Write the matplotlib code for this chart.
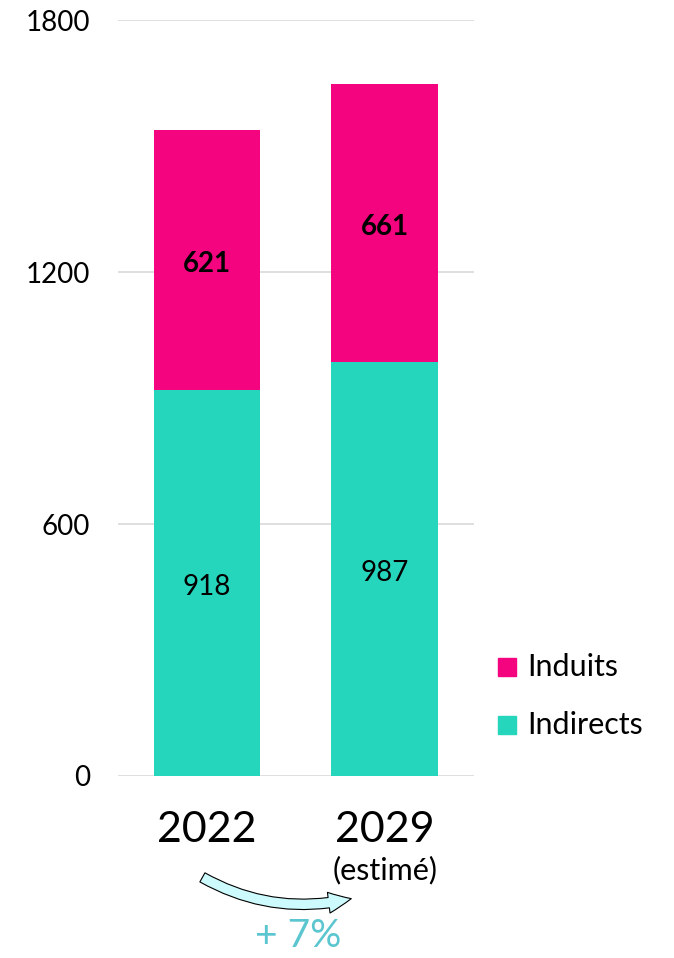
import matplotlib.pyplot as plt
from matplotlib.patches import FancyArrowPatch, Rectangle

plt.rcParams['font.family'] = ['Lato', 'DejaVu Sans']

years = ['2022', '2029']
sub = ['', '(estimé)']
indirects = [918, 987]
induits = [621, 661]
growth = '+ 7%'

col_ind = '#26d6bc'
col_indu = '#f5047f'

fig = plt.figure(figsize=(6.74, 9.58), dpi=100)
ax = fig.add_axes([0.175, 0.19, 0.528, 0.789])

x = range(len(years))
ax.bar(x, indirects, width=0.6, color=col_ind, zorder=3)
ax.bar(x, induits, width=0.6, bottom=indirects, color=col_indu, zorder=3)

for i in x:
    ax.text(i, indirects[i] / 2 - 10, str(indirects[i]), ha='center', va='center',
            fontsize=20, color='black', zorder=4)
    ax.text(i, indirects[i] + induits[i] / 2 - 10, str(induits[i]), ha='center',
            va='center', fontsize=20, fontweight='bold', color='black', zorder=4)

ax.set_xlim(-0.5, 1.5)
ax.set_ylim(0, 1800)
ax.set_yticks([0, 600, 1200, 1800])
ax.tick_params(axis='y', length=0, labelsize=20, pad=20)
ax.set_xticks([])
ax.grid(axis='y', color='#d9d9d9', linewidth=1.2, zorder=0)
for s in ax.spines.values():
    s.set_visible(False)

# year labels
for i in x:
    xf = (0.175 + 0.528 * (i + 0.5) / 2.0)
    fig.text(xf, 1 - 830 / 958, years[i], ha='center', va='center', fontsize=31)
    if sub[i]:
        fig.text(xf, 1 - 870 / 958, sub[i], ha='center', va='center', fontsize=22)

# legend
for lab, c, yp in [('Induits', col_indu, 667), ('Indirects', col_ind, 725)]:
    fig.patches.append(Rectangle((498 / 674, 1 - (yp + 9) / 958), 18 / 674, 18 / 958,
                                 transform=fig.transFigure, color=c))
    fig.text(527 / 674, 1 - yp / 958, lab, ha='left', va='center', fontsize=22)

# growth arrow
arr = FancyArrowPatch((200 / 674, 1 - 876 / 958), (354 / 674, 1 - 898 / 958),
                      transform=fig.transFigure, connectionstyle='arc3,rad=0.2',
                      arrowstyle='simple,head_width=1.0,head_length=1.1,tail_width=0.5',
                      mutation_scale=15, facecolor='#cdfbfd', edgecolor='black',
                      linewidth=0.8)
fig.patches.append(arr)
fig.text(298 / 674, 1 - 947 / 958, growth, ha='center', va='baseline', fontsize=28,
         color='#5bc6cf')

fig.savefig('out.png', dpi=100)
